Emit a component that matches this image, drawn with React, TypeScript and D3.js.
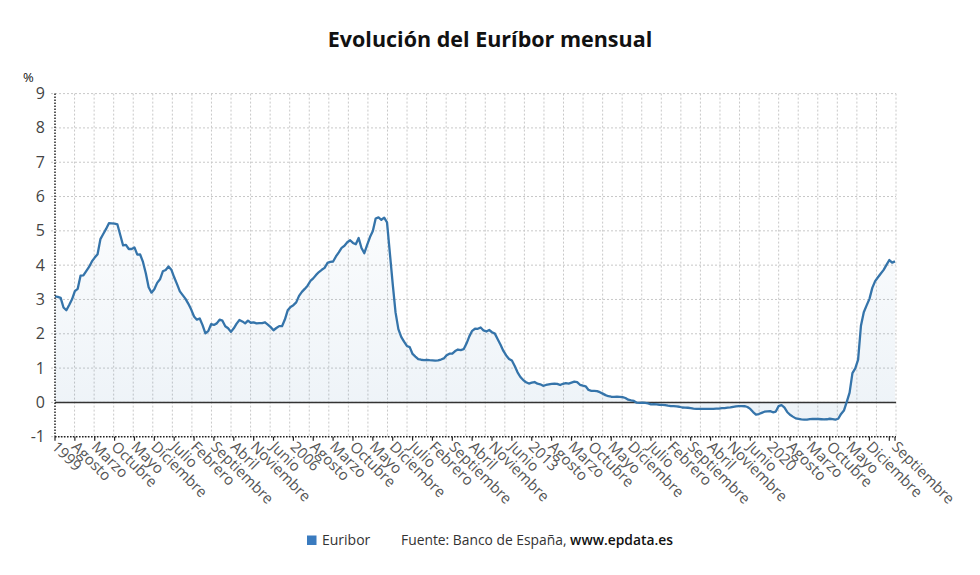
import React from "react";
import * as d3 from "d3";

const startYear = 1999;
const monthNames = ["Enero","Febrero","Marzo","Abril","Mayo","Junio","Julio","Agosto","Septiembre","Octubre","Noviembre","Diciembre"];
const seriesName = "Euribor";
const yTicks = [-1, 0, 1, 2, 3, 4, 5, 6, 7, 8, 9];
const tickStep = 7;

const v1999 = [3.087,3.076,3.048,2.765,2.684,2.838,3.005,3.242,3.31,3.693,3.703,3.828];
const v2000 = [3.948,4.109,4.221,4.32,4.757,4.908,5.056,5.221,5.217,5.213,5.186,4.88];
const v2001 = [4.574,4.591,4.471,4.471,4.516,4.308,4.31,4.094,3.765,3.355,3.198,3.3];
const v2002 = [3.483,3.588,3.82,3.859,3.963,3.869,3.646,3.446,3.236,3.126,3.017,2.872];
const v2003 = [2.705,2.504,2.411,2.447,2.252,2.014,2.076,2.279,2.258,2.303,2.41,2.381];
const v2004 = [2.218,2.161,2.055,2.16,2.296,2.4,2.36,2.302,2.384,2.321,2.33,2.301];
const v2005 = [2.312,2.31,2.335,2.267,2.193,2.103,2.168,2.223,2.22,2.414,2.684,2.783];
const v2006 = [2.833,2.914,3.105,3.221,3.308,3.401,3.539,3.615,3.715,3.799,3.864,3.921];
const v2007 = [4.064,4.094,4.106,4.253,4.373,4.505,4.564,4.666,4.725,4.647,4.607,4.793];
const v2008 = [4.498,4.349,4.59,4.82,4.994,5.361,5.393,5.323,5.384,5.248,4.35,3.452];
const v2009 = [2.622,2.135,1.909,1.771,1.644,1.61,1.412,1.334,1.261,1.243,1.231,1.242];
const v2010 = [1.232,1.225,1.215,1.225,1.249,1.281,1.373,1.421,1.42,1.495,1.541,1.526];
const v2011 = [1.55,1.714,1.924,2.086,2.147,2.144,2.183,2.097,2.067,2.11,2.044,2.004];
const v2012 = [1.837,1.678,1.499,1.368,1.266,1.219,1.061,0.877,0.74,0.65,0.588,0.549];
const v2013 = [0.575,0.594,0.545,0.528,0.484,0.507,0.525,0.542,0.543,0.541,0.506,0.543];
const v2014 = [0.562,0.549,0.577,0.604,0.592,0.513,0.488,0.469,0.362,0.338,0.335,0.329];
const v2015 = [0.298,0.255,0.212,0.18,0.165,0.163,0.167,0.161,0.154,0.128,0.079,0.059];
const v2016 = [0.042,-0.008,-0.012,-0.01,-0.013,-0.028,-0.056,-0.048,-0.057,-0.069,-0.074,-0.08];
const v2017 = [-0.095,-0.106,-0.11,-0.119,-0.127,-0.149,-0.154,-0.156,-0.168,-0.18,-0.189,-0.19];
const v2018 = [-0.189,-0.191,-0.191,-0.19,-0.188,-0.181,-0.18,-0.169,-0.166,-0.154,-0.147,-0.129];
const v2019 = [-0.116,-0.108,-0.109,-0.112,-0.134,-0.19,-0.283,-0.356,-0.339,-0.304,-0.272,-0.261];
const v2020 = [-0.253,-0.288,-0.266,-0.108,-0.081,-0.147,-0.279,-0.359,-0.415,-0.466,-0.481,-0.497];
const v2021 = [-0.505,-0.501,-0.487,-0.484,-0.481,-0.484,-0.491,-0.498,-0.492,-0.477,-0.487,-0.502];
const v2022 = [-0.477,-0.335,-0.237,0.013,0.287,0.852,0.992,1.249,2.233,2.629,2.828,3.018];
const v2023 = [3.337,3.534,3.647,3.757,3.862,4.007,4.149,4.073,4.11];

const values: number[] = [
  ...v1999, ...v2000, ...v2001, ...v2002, ...v2003, ...v2004, ...v2005, ...v2006,
  ...v2007, ...v2008, ...v2009, ...v2010, ...v2011, ...v2012, ...v2013, ...v2014,
  ...v2015, ...v2016, ...v2017, ...v2018, ...v2019, ...v2020, ...v2021, ...v2022, ...v2023,
];

const W = 980, H = 575;
const M = { left: 55, right: 895, top: 93.6, bottom: 436.7 };
const FONT = "'Open Sans', 'Noto Sans', sans-serif";
const LINE = "#3574aa";

function labelFor(i: number) {
  const m = i % 12;
  return m === 0 ? String(startYear + Math.floor(i / 12)) : monthNames[m];
}

export default function App() {
  const n = values.length;
  const x = d3.scaleLinear().domain([0, n - 1]).range([M.left, M.right]);
  const y = d3.scaleLinear().domain([-1, 9]).range([M.bottom, M.top]);

  const line = d3.line<number>().x((_, i) => x(i)).y((d) => y(d)).curve(d3.curveLinear);
  const area = d3.area<number>().x((_, i) => x(i)).y0(y(0)).y1((d) => y(d));

  const tickIdx = d3.range(0, n, tickStep);
  if (tickIdx[tickIdx.length - 1] !== n - 1) tickIdx.push(n - 1);
  const labelIdx = tickIdx.filter((t, k) => k === tickIdx.length - 1 || (n - 1) - t >= tickStep);

  const gridCount = 43;
  const gx = d3.scaleLinear().domain([0, gridCount]).range([M.left, M.right + 1]);

  return (
    <svg width={W} height={H} style={{ position: "absolute", left: 0, top: 0, background: "#fff" }} fontFamily={FONT}>
      <defs>
        <linearGradient id="fillg" gradientUnits="userSpaceOnUse" x1="0" y1={y(5.5)} x2="0" y2={y(-0.6)}>
          <stop offset="0" stopColor={LINE} stopOpacity={0.02} />
          <stop offset="1" stopColor={LINE} stopOpacity={0.09} />
        </linearGradient>
      </defs>
      <text x={490} y={47} textAnchor="middle" fontSize={21.5} fontWeight="bold" fill="#111">
        Evolución del Euríbor mensual
      </text>
      <text x={23} y={82} fontSize={13} fill="#111">%</text>

      {/* horizontal grid */}
      {yTicks.map((t) => (
        <line key={"hg" + t} x1={M.left - 4} x2={M.right + 1} y1={y(t)} y2={y(t)}
          stroke="#c8c8c8" strokeWidth={1} strokeDasharray="2,2" />
      ))}
      {/* vertical grid */}
      {d3.range(1, gridCount + 1).map((k) => (
        <line key={"vg" + k} x1={gx(k)} x2={gx(k)} y1={M.top} y2={M.bottom}
          stroke="#c8c8c8" strokeWidth={1} strokeDasharray="2,2" />
      ))}

      <path d={area(values) || ""} fill="url(#fillg)" />
      <line x1={M.left} x2={M.right + 1} y1={y(0)} y2={y(0)} stroke="#333" strokeWidth={1.5} />
      <path d={line(values) || ""} fill="none" stroke={LINE} strokeWidth={2.3} strokeLinejoin="round" />

      {/* axes */}
      <line x1={M.left} x2={M.left} y1={M.top} y2={M.bottom} stroke="#222" strokeWidth={1.5} strokeDasharray="1.5,1.5" />
      <line x1={M.left} x2={M.right + 1} y1={M.bottom} y2={M.bottom} stroke="#222" strokeWidth={1.5} strokeDasharray="1.5,1.5" />
      {yTicks.map((t) => (
        <text key={"yl" + t} x={45} y={y(t) + 5.5} textAnchor="end" fontSize={16} fill="#444">{t}</text>
      ))}
      {tickIdx.map((i) => (
        <line key={"xt" + i} x1={x(i)} x2={x(i)} y1={M.bottom} y2={M.bottom + 4} stroke="#222" strokeWidth={1.2} />
      ))}
      {labelIdx.map((i) => (
        <text key={"xl" + i} transform={`translate(${x(i) - 4},${M.bottom + 11}) rotate(45)`}
          fontSize={15} fill="#555">{labelFor(i)}</text>
      ))}

      {/* legend */}
      <rect x={307} y={535.5} width={9.5} height={9.5} fill="#3a7bbf" />
      <text x={322} y={545} fontSize={14} fill="#333">{seriesName}</text>
      <text x={401} y={545} fontSize={14} fill="#333" textLength={272} lengthAdjust="spacingAndGlyphs">
        Fuente: Banco de España, <tspan fontWeight="600" fill="#111">www.epdata.es</tspan>
      </text>
    </svg>
  );
}
